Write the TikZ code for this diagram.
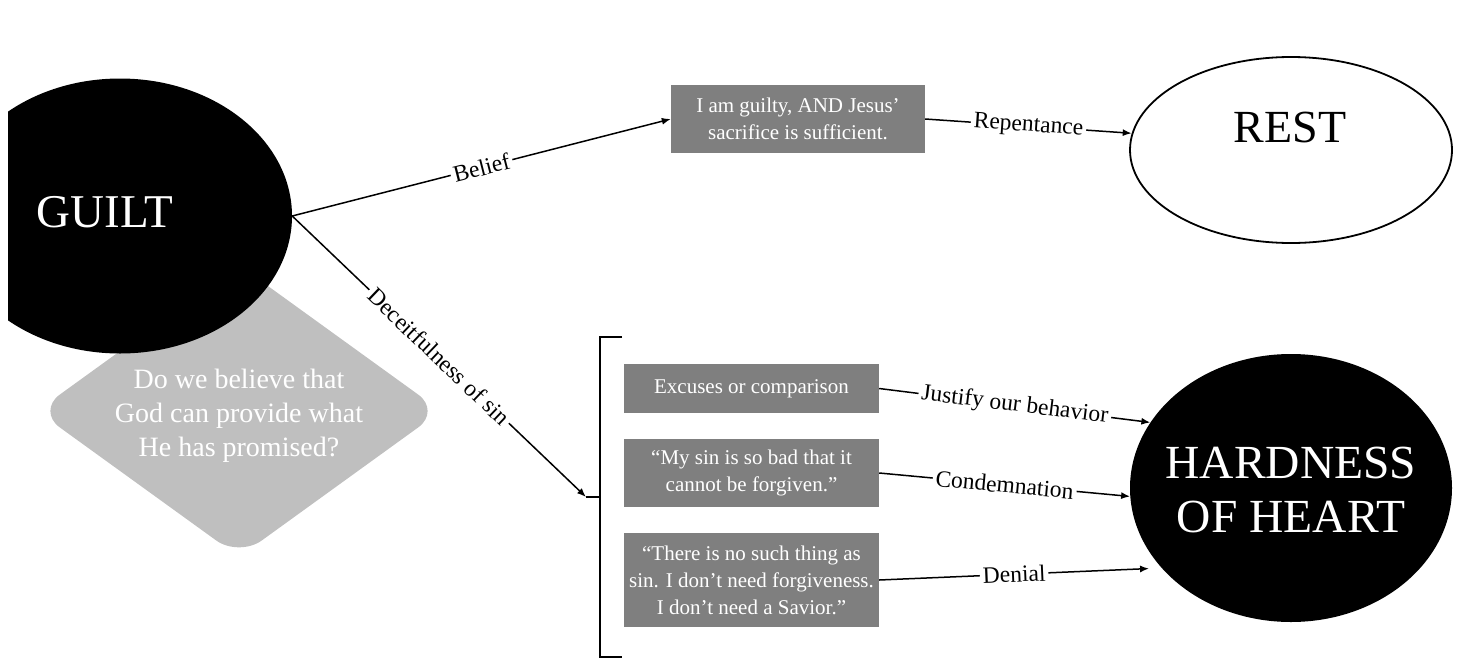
\documentclass[tikz,border=0pt]{standalone}
\usepackage{fontspec}
\setmainfont{Liberation Serif}
\usetikzlibrary{shapes.geometric,arrows.meta}
\definecolor{boxgray}{HTML}{7F7F7F}
\definecolor{diagray}{HTML}{BFBFBF}
\begin{document}
\begin{tikzpicture}[x=1pt,y=-1pt,
 conn/.style={line width=1.5pt, -{Latex[length=9pt,width=7pt]}},
 lbl/.style={midway, sloped, fill=white, inner sep=3pt, font=\fontsize{23.5}{27}\selectfont},
 graybox/.style={rectangle, fill=boxgray, text=white, align=center, inner sep=0pt, font=\fontsize{21}{27}\selectfont},
 titletext/.style={font=\fontsize{47.5}{54}\selectfont, align=center}]
\useasboundingbox (0,0) rectangle (1460,659);
% question diamond
\node[diamond, fill=diagray, minimum width=404, minimum height=292, inner sep=0pt, rounded corners=28pt] (q) at (239,411) {};
\node[text=white, align=center, font=\fontsize{28}{34}\selectfont] (qt) at (239,416) {Do we believe that\\God can provide what\\He has promised?};
% guilt
\begin{scope}
\clip (8,0) rectangle (1460,659);
\node[ellipse, fill=black, minimum width=344, minimum height=275, inner sep=0pt] (guilt) at (120,216) {};
\end{scope}
\node[text=white, titletext, font=\fontsize{47}{52}\selectfont] (guiltt) at (105,212) {GUILT};
% rest
\node[ellipse, draw, line width=1.8pt, minimum width=322, minimum height=186, inner sep=0pt] (rest) at (1291,150) {};
\node[titletext, font=\fontsize{46}{52}\selectfont] (restt) at (1290,127) {REST};
% hardness
\node[ellipse, fill=black, minimum width=322, minimum height=268, inner sep=0pt] (hh) at (1291,488) {};
\node[titletext, text=white] (hht) at (1291,490) {HARDNESS\\OF HEART};
% boxes
\node[graybox, minimum width=254, minimum height=68] (top) at (798,119) {I am guilty, AND Jesus'\\sacrifice is sufficient.};
\node[graybox, minimum width=255, minimum height=49] (b1) at (751.5,388.5) {Excuses or comparison};
\node[graybox, minimum width=255, minimum height=68] (b2) at (751.5,473) {``My sin is so bad that it\\cannot be forgiven.''};
\node[graybox, minimum width=255, minimum height=94] (b3) at (751.5,580) {``There is no such thing as\\sin. I don't need forgiveness.\\I don't need a Savior.''};
% bracket
\coordinate (br) at (600,497);
\coordinate (brin) at (586,497);
\draw[line width=2pt] (622,337) -- (600,337) -- (600,657) -- (622,657);
% connectors
\draw[conn] (guilt.east) -- node[lbl]{Belief} (top.west);
\draw[conn] (guilt.east) -- node[lbl]{Deceitfulness of sin} (brin);
\draw[line width=1.5pt] (brin) -- (br);
\draw[conn] (top.east) -- node[lbl]{Repentance} (rest.174);
\draw[conn] (b1.east) -- node[lbl]{Justify our behavior} (hh.155);
\draw[conn] (b2.east) -- node[lbl]{Condemnation} (hh.183);
\draw[conn] (b3.east) -- node[lbl]{Denial} ([xshift=-13pt]hh.212);
\end{tikzpicture}
\end{document}
